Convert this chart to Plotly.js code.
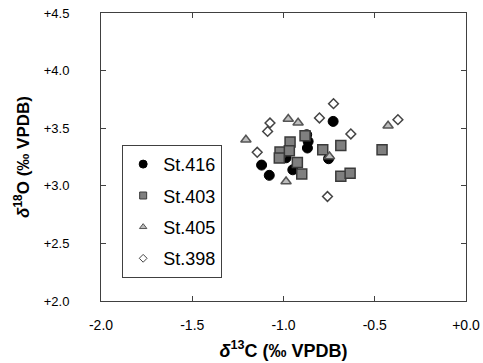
<!DOCTYPE html>
<html>
<head>
<meta charset="utf-8">
<script src="https://cdn.plot.ly/plotly-3.0.1.min.js"></script>
<style>html,body{margin:0;padding:0;background:#fff;}#chart{width:483px;height:363px;}</style>
</head>
<body>
<div id="chart"></div>
<script>
// Series names
const seriesNames = ["St.416", "St.403", "St.405", "St.398"];

// δ13C (x) and δ18O (y) values
const st416_d13C = [-1.120, -1.078, -0.949, -0.873, -0.865, -0.869, -0.728, -0.753, -0.986];
const st416_d18O = [3.180, 3.091, 3.139, 3.443, 3.385, 3.328, 3.559, 3.235, 3.243];

const st403_d13C = [-0.964, -1.019, -0.968, -1.023, -0.924, -0.900, -0.882, -0.785, -0.686, -0.686, -0.635, -0.460];
const st403_d18O = [3.380, 3.293, 3.304, 3.241, 3.203, 3.102, 3.435, 3.313, 3.350, 3.083, 3.110, 3.313];

const st405_d13C = [-1.206, -0.974, -0.920, -0.748, -0.986, -0.427];
const st405_d18O = [3.400, 3.580, 3.548, 3.255, 3.037, 3.522];

const st398_d13C = [-0.726, -1.074, -1.087, -0.803, -0.631, -1.144, -0.759, -0.373];
const st398_d18O = [3.713, 3.545, 3.472, 3.589, 3.450, 3.291, 2.907, 3.574];

// Tick labels
const xTickVals = [-2.0, -1.5, -1.0, -0.5, 0.0];
const xTickText = ["-2.0", "-1.5", "-1.0", "-0.5", "+0.0"];
const yTickVals = [2.0, 2.5, 3.0, 3.5, 4.0, 4.5];
const yTickText = ["+2.0", "+2.5", "+3.0", "+3.5", "+4.0", "+4.5"];

const styles = [
  {symbol: "circle", size: 10, color: "#000000", line: {color: "#000000", width: 1}},
  {symbol: "square", size: 10, color: "#7f7f7f", line: {color: "#3a3a3a", width: 1.5}},
  {symbol: "triangle-up", size: 9, color: "#bdbdbd", line: {color: "#555555", width: 1.5}},
  {symbol: "diamond", size: 7.5, color: "#ffffff", line: {color: "#444444", width: 1.5}}
];
const legendStyles = [
  {symbol: "circle", size: 8, color: "#000000", line: {color: "#000000", width: 1}},
  {symbol: "square", size: 7, color: "#7f7f7f", line: {color: "#3a3a3a", width: 1}},
  {symbol: "triangle-up", size: 6.5, color: "#bdbdbd", line: {color: "#555555", width: 1}},
  {symbol: "diamond", size: 6, color: "#ffffff", line: {color: "#444444", width: 1}}
];

const xs = [st416_d13C, st403_d13C, st405_d13C, st398_d13C];
const ys = [st416_d18O, st403_d18O, st405_d18O, st398_d18O];

const traces = [];
for (let i = 0; i < 4; i++) {
  traces.push({
    type: "scatter", mode: "markers", x: xs[i], y: ys[i], name: seriesNames[i],
    showlegend: false, hoverinfo: "skip",
    marker: styles[i]
  });
}
for (let i = 0; i < 4; i++) {
  traces.push({
    type: "scatter", mode: "markers", x: [null], y: [null], name: seriesNames[i],
    legendgroup: "g" + i, showlegend: true,
    marker: legendStyles[i]
  });
}

const font = "Liberation Sans, Arial, sans-serif";
const layout = {
  width: 483, height: 363,
  margin: {l: 101, r: 17, t: 13, b: 62},
  paper_bgcolor: "#ffffff", plot_bgcolor: "#ffffff",
  font: {family: font, size: 13, color: "#000000"},
  showlegend: true,
  legend: {
    x: 0.058, y: 0.542, xanchor: "left", yanchor: "top",
    bgcolor: "#ffffff", bordercolor: "#404040", borderwidth: 1,
    font: {family: font, size: 18, color: "#000000"},
    tracegroupgap: 5, itemwidth: 30
  },
  xaxis: {
    range: [-2.0, 0.0], tickvals: xTickVals, ticktext: xTickText,
    showgrid: false, zeroline: false,
    showline: true, linecolor: "#404040", linewidth: 1, mirror: "ticks",
    ticks: "inside", ticklen: 5, tickcolor: "#404040",
    ticklabelstandoff: 11,
    tickfont: {family: font, size: 14, color: "#000000"},
    title: {text: "<b><i>δ</i><sup>13</sup>C (‰ VPDB)</b>", font: {family: font, size: 18, color: "#000000"}, standoff: 12}
  },
  yaxis: {
    range: [2.0, 4.5], tickvals: yTickVals, ticktext: yTickText,
    showgrid: false, zeroline: false,
    showline: true, linecolor: "#404040", linewidth: 1, mirror: "ticks",
    ticks: "inside", ticklen: 5, tickcolor: "#404040",
    ticklabelstandoff: 28,
    tickfont: {family: font, size: 13, color: "#000000"},
    title: {text: "<b><i>δ</i><sup>18</sup>O (‰ VPDB)</b>", font: {family: font, size: 17, color: "#000000"}, standoff: 9}
  }
};

Plotly.newPlot("chart", traces, layout, {staticPlot: true, displayModeBar: false});
</script>
</body>
</html>
